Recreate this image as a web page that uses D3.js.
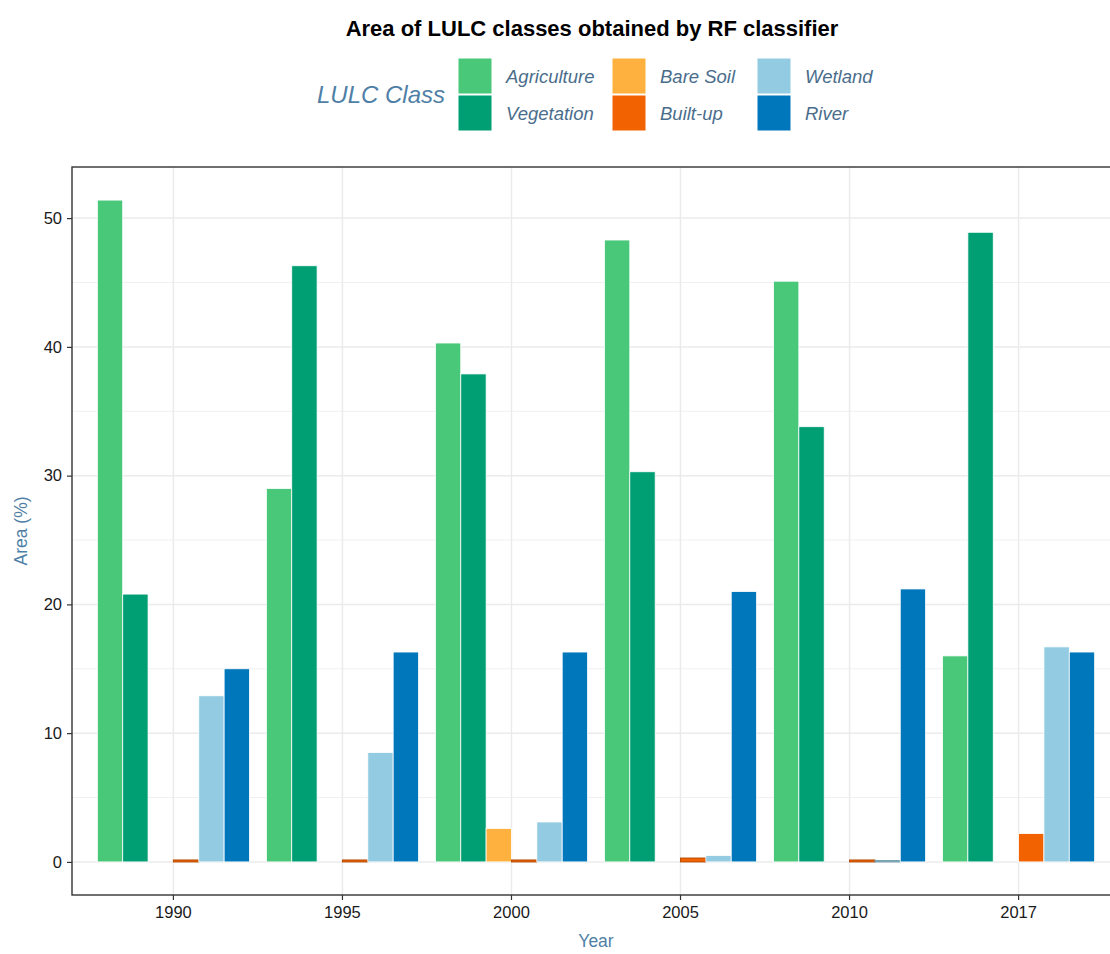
<!DOCTYPE html>
<html>
<head>
<meta charset="utf-8">
<script src="https://cdn.jsdelivr.net/npm/d3@7"></script>
<style>
  body { margin: 0; background: #fff; }
  svg { display: block; font-family: "Liberation Sans", Arial, sans-serif; }
</style>
</head>
<body>
<svg id="chart" width="1110" height="954"></svg>
<script>
const years = ['1990', '1995', '2000', '2005', '2010', '2017'];
const classes = ['Agriculture', 'Vegetation', 'Bare Soil', 'Built-up', 'Wetland', 'River'];

const agriculture = [51.4, 29.0, 40.3, 48.3, 45.1, 16.0];
const vegetation = [20.8, 46.3, 37.9, 30.3, 33.8, 48.9];
const bareSoil = [0, 0, 2.6, 0, 0, 0];
const builtUp = [0.15, 0.15, 0.15, 0.3, 0.15, 2.2];
const wetland = [12.9, 8.5, 3.1, 0.5, 0.1, 16.7];
const river = [15.0, 16.3, 16.3, 21.0, 21.2, 16.3];

const yTicks = [0, 10, 20, 30, 40, 50];
const yMinor = [5, 15, 25, 35, 45];

const series = [agriculture, vegetation, bareSoil, builtUp, wetland, river];
const colors = ['#48C878', '#009E73', '#FFB13F', '#F26200', '#92CBE2', '#0077BB'];

const data = [];
years.forEach((year, i) => {
  classes.forEach((cls, j) => {
    data.push({ year, cls, value: series[j][i] });
  });
});

const margin = { top: 167, left: 72 };
const width = 1048;
const height = 728;

const svg = d3.select('#chart');

const color = d3.scaleOrdinal().domain(classes).range(colors);

const x0 = d3.scaleBand()
  .domain(years)
  .range([0, width])
  .paddingInner(0)
  .paddingOuter(0.1);

const x1 = d3.scaleBand()
  .domain(classes)
  .range([x0.bandwidth() * 0.05, x0.bandwidth() * 0.95]);

const maxVal = d3.max(data, d => d.value);
const y = d3.scaleLinear()
  .domain([-maxVal * 0.05, maxVal * 1.05])
  .range([height, 0]);

const g = svg.append('g')
  .attr('transform', `translate(${margin.left},${margin.top})`);

// grid
g.selectAll('.minor')
  .data(yMinor)
  .enter()
  .append('line')
  .attr('x1', 0).attr('x2', width)
  .attr('y1', d => y(d)).attr('y2', d => y(d))
  .attr('stroke', '#F0F0F0')
  .attr('stroke-width', 1);

g.selectAll('.major')
  .data(yTicks)
  .enter()
  .append('line')
  .attr('x1', 0).attr('x2', width)
  .attr('y1', d => y(d)).attr('y2', d => y(d))
  .attr('stroke', '#EBEBEB')
  .attr('stroke-width', 1.5);

g.selectAll('.vgrid')
  .data(years)
  .enter()
  .append('line')
  .attr('x1', d => x0(d) + x0.bandwidth() / 2)
  .attr('x2', d => x0(d) + x0.bandwidth() / 2)
  .attr('y1', 0).attr('y2', height)
  .attr('stroke', '#EBEBEB')
  .attr('stroke-width', 1.5);

// bars
g.selectAll('.bar')
  .data(data.filter(d => d.value > 0))
  .enter()
  .append('rect')
  .attr('x', d => x0(d.year) + x1(d.cls))
  .attr('y', d => y(d.value))
  .attr('width', x1.bandwidth())
  .attr('height', d => y(0) - y(d.value))
  .attr('fill', d => color(d.cls))
  .attr('stroke', d => d.value < 0.5 ? d3.color(color(d.cls)).darker(0.8) : '#fff')
  .attr('stroke-width', d => d.value < 0.5 ? 1 : 0.8);

// panel border
g.append('rect')
  .attr('x', 0).attr('y', 0)
  .attr('width', width).attr('height', height)
  .attr('fill', 'none')
  .attr('stroke', '#333')
  .attr('stroke-width', 1.4);

// axes
const xAxis = g.append('g')
  .attr('transform', `translate(0,${height})`)
  .call(d3.axisBottom(x0).tickSize(5).tickPadding(6));
xAxis.select('.domain').remove();

const yAxis = g.append('g')
  .call(d3.axisLeft(y).tickValues(yTicks).tickSize(5).tickPadding(5));
yAxis.select('.domain').remove();

[xAxis, yAxis].forEach(ax => {
  ax.selectAll('line').attr('stroke', '#333').attr('stroke-width', 1.2);
  ax.selectAll('text')
    .attr('fill', '#1a1a1a')
    .style('font-size', '16.5px')
    .style('font-family', '"Liberation Sans", Arial, sans-serif');
});

// axis titles
svg.append('text')
  .attr('x', margin.left + width / 2)
  .attr('y', 947)
  .attr('text-anchor', 'middle')
  .attr('fill', '#4F7FA6')
  .style('font-size', '17.5px')
  .text('Year');

svg.append('text')
  .attr('transform', `translate(27,${margin.top + height / 2}) rotate(-90)`)
  .attr('text-anchor', 'middle')
  .attr('fill', '#4F7FA6')
  .style('font-size', '17.5px')
  .text('Area (%)');

// title
svg.append('text')
  .attr('x', 592)
  .attr('y', 36)
  .attr('text-anchor', 'middle')
  .attr('font-weight', 'bold')
  .attr('fill', '#000')
  .style('font-size', '22px')
  .text('Area of LULC classes obtained by RF classifier');

// legend
const legend = svg.append('g');

legend.append('text')
  .attr('x', 445)
  .attr('y', 103)
  .attr('text-anchor', 'end')
  .attr('fill', '#4F7FA6')
  .attr('font-style', 'italic')
  .style('font-size', '24px')
  .text('LULC Class');

const colX = [458, 612, 757];
classes.forEach((cls, i) => {
  const col = Math.floor(i / 2);
  const row = i % 2;
  const item = legend.append('g')
    .attr('transform', `translate(${colX[col]},${58 + row * 37})`);

  item.append('rect')
    .attr('width', 34)
    .attr('height', 36)
    .attr('fill', color(cls))
    .attr('stroke', '#fff')
    .attr('stroke-width', 1);

  item.append('text')
    .attr('x', 48)
    .attr('y', 25)
    .attr('fill', '#4A6D8C')
    .attr('font-style', 'italic')
    .style('font-size', '18.5px')
    .text(cls);
});
</script>
</body>
</html>
